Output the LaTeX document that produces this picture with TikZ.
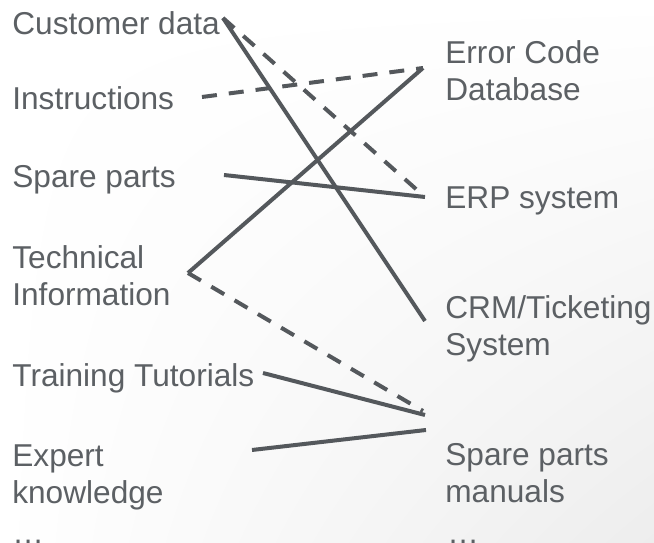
\documentclass[tikz,border=0pt]{standalone}
\usepackage{fontspec}
\setmainfont{Liberation Sans}
\usetikzlibrary{shadings}
\definecolor{labelgray}{RGB}{92,96,100}
\definecolor{linegray}{RGB}{84,88,92}
\begin{document}
\begin{tikzpicture}[x=0.02cm, y=-0.02cm, inner sep=0mm,
		labelstyle/.style={anchor=base west, align=left, text=labelgray, font=\fontsize{18}{21.6}\selectfont},
		edgestyle/.style={draw=linegray, line width=0.08cm},
		dashstyle/.style={edgestyle, dash pattern=on 0.3cm off 0.24cm}]

		\useasboundingbox (0,0) rectangle (654,543);
		\shade[upper left=white, upper right=white, lower left=white, lower right=black!7] (0,0) rectangle (654,543);

		% sources (base = baseline of last line)
		\node [labelstyle] (cust) at (12,35) {Customer data};
		\node [labelstyle] (instr) at (12,110) {Instructions};
		\node [labelstyle] (spare) at (12,188) {Spare parts};
		\node [labelstyle] (techinfo) at (12,306) {Technical\\Information};
		\node [labelstyle] (training) at (12,387) {Training Tutorials};
		\node [labelstyle] (expert) at (12,504) {Expert\\knowledge};
		\node [labelstyle] (ldots) at (12,544) {\dots};

		% systems
		\node [labelstyle] (errdb) at (445,101) {Error Code\\Database};
		\node [labelstyle] (erp) at (445,209) {ERP system};
		\node [labelstyle] (crm) at (445,356) {CRM/Ticketing\\System};
		\node [labelstyle] (manuals) at (445,503) {Spare parts\\manuals};
		\node [labelstyle] (rdots) at (447,544) {\dots};

		% ports
		\coordinate (cust-out) at (223,18);
		\coordinate (instr-out) at (202,97);
		\coordinate (spare-out) at (224,175);
		\coordinate (techinfo-out) at (188,273);
		\coordinate (training-out) at (263,373);
		\coordinate (expert-out) at (252,450);
		\coordinate (errdb-in) at (423,68);
		\coordinate (erp-in) at (425,197);
		\coordinate (crm-in) at (425,321);
		\coordinate (manuals-in) at (423,411);
		\coordinate (manuals-in2) at (425,415);
		\coordinate (manuals-in3) at (426,430);

		\draw[edgestyle] (cust-out) -- (crm-in);
		\draw[dashstyle] (cust-out) -- (erp-in);
		\draw[dashstyle] (instr-out) -- (errdb-in);
		\draw[edgestyle] (spare-out) -- (erp-in);
		\draw[edgestyle] (techinfo-out) -- (errdb-in);
		\draw[dashstyle] (techinfo-out) -- (manuals-in);
		\draw[edgestyle] (training-out) -- (manuals-in2);
		\draw[edgestyle] (expert-out) -- (manuals-in3);

		\end{tikzpicture}
\end{document}
